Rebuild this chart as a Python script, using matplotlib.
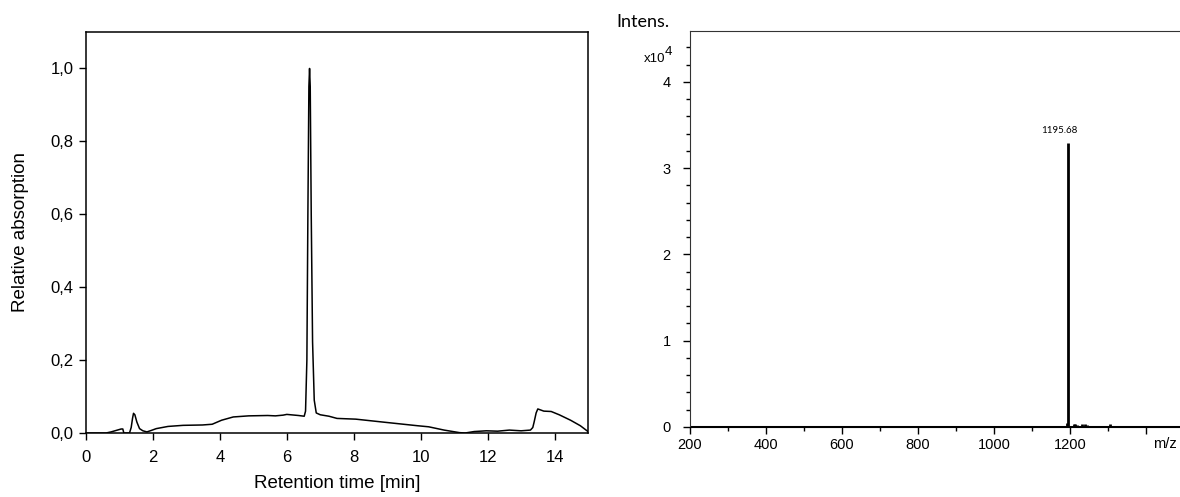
import matplotlib.pyplot as plt
from matplotlib.ticker import MultipleLocator

# HPLC trace (retention time in min, relative absorption)
rt = [0.0, 0.60, 0.75, 0.90, 1.05, 1.10, 1.13, 1.30, 1.35, 1.39, 1.42, 1.46,
      1.52, 1.60, 1.70, 1.82, 1.95, 2.10, 2.45, 2.90, 3.48, 3.77, 4.05, 4.40,
      4.86, 5.43, 5.66, 5.89, 6.00, 6.35, 6.52, 6.56, 6.60, 6.63, 6.66, 6.68,
      6.70, 6.73, 6.77, 6.82, 6.88, 7.00, 7.26, 7.50, 8.06, 8.87, 9.90, 10.24,
      10.70, 11.16, 11.33, 11.60, 11.96, 12.30, 12.65, 13.00, 13.28, 13.35,
      13.39, 13.45, 13.50, 13.68, 13.90, 14.14, 14.48, 14.77, 15.0]
absorb = [0.0, 0.0, 0.003, 0.007, 0.011, 0.011, 0.0, 0.0, 0.015, 0.04, 0.054, 0.05,
          0.03, 0.012, 0.006, 0.003, 0.007, 0.012, 0.018, 0.021, 0.022, 0.024, 0.035, 0.044,
          0.047, 0.048, 0.047, 0.049, 0.051, 0.048, 0.046, 0.06, 0.2, 0.6, 0.95, 1.0,
          0.95, 0.6, 0.25, 0.09, 0.055, 0.05, 0.046, 0.04, 0.038, 0.03, 0.02, 0.017,
          0.008, 0.001, 0.0, 0.004, 0.006, 0.005, 0.008, 0.006, 0.008, 0.015,
          0.03, 0.055, 0.066, 0.06, 0.059, 0.05, 0.035, 0.02, 0.004]

# Mass spectrum sticks (m/z, intensity in counts)
peak_mz = [1193.0, 1195.68, 1210.0, 1214.0, 1218.0, 1232.0, 1240.0, 1244.0, 1304.0]
peak_int = [500, 32900, 350, 300, 250, 300, 300, 250, 300]

left_yticks = [0.0, 0.2, 0.4, 0.6, 0.8, 1.0]
left_ylabels = ['0,0', '0,2', '0,4', '0,6', '0,8', '1,0']
mz_ticks = [200, 400, 600, 800, 1000, 1200, 1400]
mz_labels = ['200', '400', '600', '800', '1000', '1200', '']
int_ticks = [0, 10000, 20000, 30000, 40000]
int_labels = ['0', '1', '2', '3', '4']

plt.rcParams['font.family'] = ['Liberation Sans', 'DejaVu Sans']

fig = plt.figure(figsize=(11.8, 4.97), dpi=100)
W, H = 1180, 497

# ---- left: chromatogram ----
ax1 = fig.add_axes([86 / W, (H - 433) / H, (588 - 86) / W, (433 - 32) / H])
ax1.plot(rt, absorb, color='black', lw=1.1)
ax1.set_xlim(0, 15)
ax1.set_ylim(0, 1.1)
ax1.set_xticks(range(0, 15, 2))
ax1.set_yticks(left_yticks)
ax1.set_yticklabels(left_ylabels)
ax1.tick_params(direction='out', length=5, width=1, labelsize=12, pad=4)
ax1.tick_params(axis='x', pad=7)
for s in ax1.spines.values():
    s.set_linewidth(1.1)
ax1.set_xlabel('Retention time [min]', fontsize=13.5)
ax1.set_ylabel('Relative absorption', fontsize=13.5)
ax1.xaxis.set_label_coords(0.5, -0.105)
ax1.yaxis.set_label_coords(-0.113, 0.5)

# ---- right: mass spectrum ----
ax2 = fig.add_axes([690 / W, (H - 427) / H, (W - 690) / W, (427 - 31) / H])
ax2.vlines(peak_mz, 0, peak_int, color='black', lw=2)
ax2.axhline(0, color='black', lw=2.2)
ax2.set_xlim(200, 1489)
ax2.set_ylim(0, 45900)
ax2.set_xticks(mz_ticks)
ax2.set_xticklabels(mz_labels)
ax2.xaxis.set_minor_locator(MultipleLocator(200, offset=100))
ax2.set_yticks(int_ticks)
ax2.set_yticklabels(int_labels)
ax2.yaxis.set_minor_locator(MultipleLocator(2000))
ax2.tick_params(which='major', direction='out', length=5, width=1, labelsize=10.5)
ax2.tick_params(axis='y', which='major', pad=9)
ax2.tick_params(axis='x', which='major', pad=3)
ax2.tick_params(which='minor', direction='out', length=3, width=1)
ax2.spines['right'].set_visible(False)
ax2.spines['left'].set_color('#333333')
ax2.spines['top'].set_color('#333333')

ax2.text(1195.68 - 25, 33900, '1195.68', fontsize=7, family='Lato', ha='center', va='bottom')
fig.text(616 / W, 1 - 22 / H, 'Intens.', fontsize=13, family='Lato', ha='left', va='center')
fig.text(665 / W, 1 - 59 / H, 'x10', fontsize=9.5, ha='right', va='center')
fig.text(665 / W, 1 - 52 / H, '4', fontsize=9.5, ha='left', va='center')
fig.text(1165 / W, 1 - 444 / H, 'm/z', fontsize=10.5, ha='center', va='center')

fig.savefig('out.png', dpi=100)
